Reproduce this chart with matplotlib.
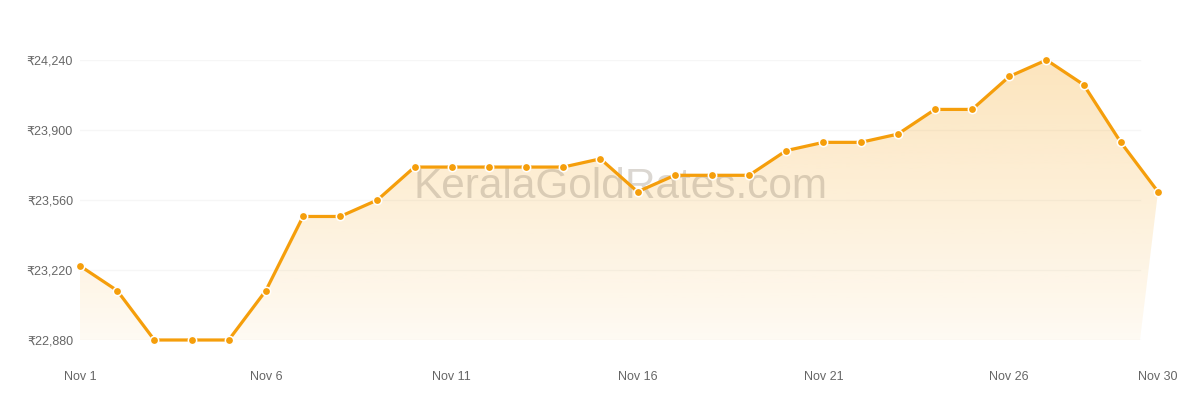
import numpy as np
import matplotlib
matplotlib.use("Agg")
import matplotlib.pyplot as plt
from matplotlib.patches import Polygon

plt.rcParams['font.family'] = ['Liberation Sans', 'DejaVu Sans']

# gold rate, Nov 1 - Nov 30
days = list(range(1, 31))
rates = [
    23240, 23120, 22880, 22880, 22880, 23120, 23480, 23480, 23560, 23720,
    23720, 23720, 23720, 23720, 23760, 23600, 23680, 23680, 23680, 23800,
    23840, 23840, 23880, 24000, 24000, 24160, 24240, 24120, 23840, 23600,
]
yticks = [22880, 23220, 23560, 23900, 24240]
xticks = [1, 6, 11, 16, 21, 26, 30]
xlabels = ['Nov %d' % d for d in xticks]

orange = '#f59e0b'

fig = plt.figure(figsize=(12, 4), dpi=100)
ax = fig.add_axes([80 / 1200, 60 / 400, (1158 - 80) / 1200, 280 / 400])
ax.set_xlim(1, 30)
ax.set_ylim(22880, 24240)

# plot area ends a bit before the last point
x_end = 1 + (1140 - 80) / ((1158 - 80) / 29)

for v in yticks:
    ax.plot([1, x_end], [v, v], color='#f6f6f6', lw=1, zorder=0)

# gradient area under the line
verts = list(zip(days, rates)) + [(x_end, yticks[0]), (1, yticks[0])]
poly = Polygon(verts, closed=True, facecolor='none', edgecolor='none')
ax.add_patch(poly)
grad = np.zeros((256, 1, 4))
grad[:, 0, 0] = 245 / 255
grad[:, 0, 1] = 158 / 255
grad[:, 0, 2] = 11 / 255
grad[:, 0, 3] = np.linspace(0.27, 0.05, 256)
im = ax.imshow(grad, extent=[1, 30, yticks[0], max(rates)], origin='upper',
               aspect='auto', zorder=1)
im.set_clip_path(poly)

ax.text(620 / 1200, 1 - 187 / 400, 'KeralaGoldRates.com',
        transform=fig.transFigure, ha='center', va='center', fontsize=30.5,
        color='#8a7d6a', alpha=0.3, zorder=2)

ax.plot(days, rates, color=orange, lw=2.3, marker='o', ms=6, mfc=orange,
        mec='white', mew=1.1, clip_on=False, zorder=3)

ax.set_xticks(xticks)
ax.set_xticklabels(xlabels)
ax.set_yticks(yticks)
ax.set_yticklabels(['₹{:,}'.format(v) for v in yticks])
ax.tick_params(axis='both', length=0, labelsize=9, colors='#666666')
ax.tick_params(axis='x', pad=22)
ax.tick_params(axis='y', pad=5)
for s in ax.spines.values():
    s.set_visible(False)

fig.savefig('out.png', dpi=100)
